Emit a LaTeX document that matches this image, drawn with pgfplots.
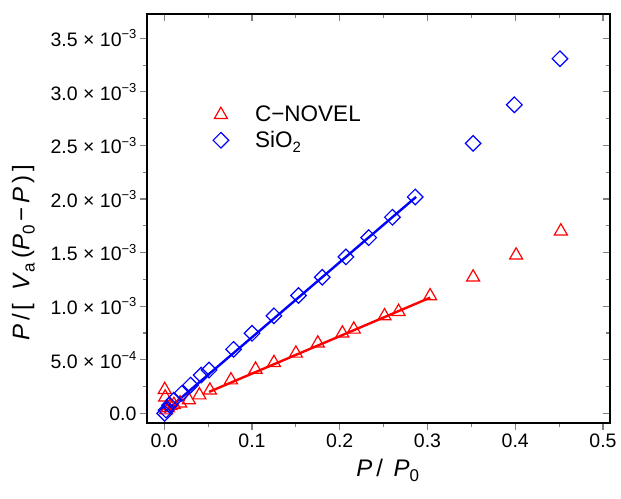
\documentclass[border=0pt]{standalone}
\usepackage{fontspec}
\setmainfont{Liberation Sans}
\usepackage{pgfplots}
\pgfplotsset{compat=1.18}
\newcommand{\sub}[1]{\raisebox{-0.4ex}{\fontsize{17}{18}\selectfont #1}}
\newcommand{\lsub}[1]{\raisebox{-0.4ex}{\fontsize{15}{16}\selectfont #1}}
\newcommand{\sups}[1]{\raisebox{0.75ex}{\fontsize{13}{14}\selectfont #1}}
\begin{document}
\begin{tikzpicture}
\path[use as bounding box] (-147pt,-75pt) rectangle (474pt,423pt);
\pgfplotsset{
  common/.style={
    scale only axis, width=463pt, height=409pt,
    xmin=-0.0197, xmax=0.508, ymin=-0.00009, ymax=0.003727,
    xtick={0,0.1,0.2,0.3,0.4,0.5}, minor x tick num=1,
    ytick={0,0.0005,0.001,0.0015,0.002,0.0025,0.003,0.0035}, minor y tick num=1,
    scaled x ticks=false, scaled y ticks=false,
    axis line style={line width=1.4pt},
    major tick style={line width=1.2pt},
    minor tick style={line width=1.2pt},
    major tick length=7pt, minor tick length=4pt,
  }
}
\begin{axis}[common,
  at={(0,0)}, anchor=south west,
  xtick pos=bottom, ytick pos=left, tick align=outside,
  xticklabels={0.0,0.1,0.2,0.3,0.4,0.5},
  yticklabels={0.0,
    5.0 × 10\sups{−4},
    1.0 × 10\sups{−3},
    1.5 × 10\sups{−3},
    2.0 × 10\sups{−3},
    2.5 × 10\sups{−3},
    3.0 × 10\sups{−3},
    3.5 × 10\sups{−3}},
  ticklabel style={font=\fontsize{19.5}{22}\selectfont},
  xlabel={\textit{P}\,/\;\,\textit{P}\sub{0}},
  ylabel={\textit{P}\,/\,[\;\;\textit{V}\sub{a}\,(\textit{P}\sub{0}\,−\,\textit{P}\,)\,]},
  label style={font=\fontsize{24}{28}\selectfont},
  x label style={at={(axis description cs:0.52,-0.115)}, anchor=center},
  y label style={at={(axis description cs:-0.267,0.416)}, anchor=center, rotate=0},
  legend style={at={(axis description cs:0.135,0.785)}, anchor=north west,
    draw=none, fill=none, font=\fontsize{22.5}{26}\selectfont, row sep=4pt},
  legend cell align=left,
  legend image code/.code={\draw[#1] plot coordinates {(0pt,0pt)}; \path (-8pt,0pt) (32pt,0pt);},
]
% C-NOVEL
\addplot[only marks, color=red, mark=triangle, mark size=7.5pt, mark options={line width=1.2pt}]
coordinates {
(0.0005,0.00022) (0.001,0.00015) (0.002,0.00003) (0.004,0.00005) (0.007,0.00007)
(0.011,0.00008) (0.018,0.000095) (0.028,0.000125) (0.040,0.00017) (0.052,0.000215)
(0.076,0.00031) (0.104,0.00041) (0.125,0.000472) (0.150,0.00056) (0.175,0.000654)
(0.203,0.000747) (0.216,0.000784) (0.251,0.000908) (0.267,0.000949) (0.303,0.001095)
(0.352,0.00127) (0.401,0.001475) (0.452,0.00170)
};
\addlegendentry{C−NOVEL}
% SiO2
\addplot[only marks, color=blue, mark=square, mark size=5.5pt, mark options={rotate=45, line width=1.2pt}]
coordinates {
(0.0005,0.00000) (0.002,0.00003) (0.006,0.000077) (0.011,0.000124) (0.020,0.000187)
(0.030,0.000264) (0.042,0.000357) (0.051,0.000404) (0.079,0.000598) (0.100,0.000747)
(0.125,0.00091) (0.153,0.0011) (0.180,0.00127) (0.207,0.00146) (0.233,0.00164)
(0.260,0.00183) (0.286,0.00202) (0.352,0.00252) (0.399,0.00288) (0.451,0.00331)
};
\addlegendentry{SiO\lsub{2}}
% fit lines
\addplot[forget plot, red, line width=2.4pt] coordinates {(0.051,0.0002) (0.303,0.00108)};
\addplot[forget plot, blue, line width=2.4pt] coordinates {(0.0,0.00001) (0.287,0.00202)};
\end{axis}
\begin{axis}[common,
  at={(0,0)}, anchor=south west,
  xtick pos=top, ytick pos=right, tick align=inside,
  xticklabels={}, yticklabels={},
]
\end{axis}
\end{tikzpicture}
\end{document}
